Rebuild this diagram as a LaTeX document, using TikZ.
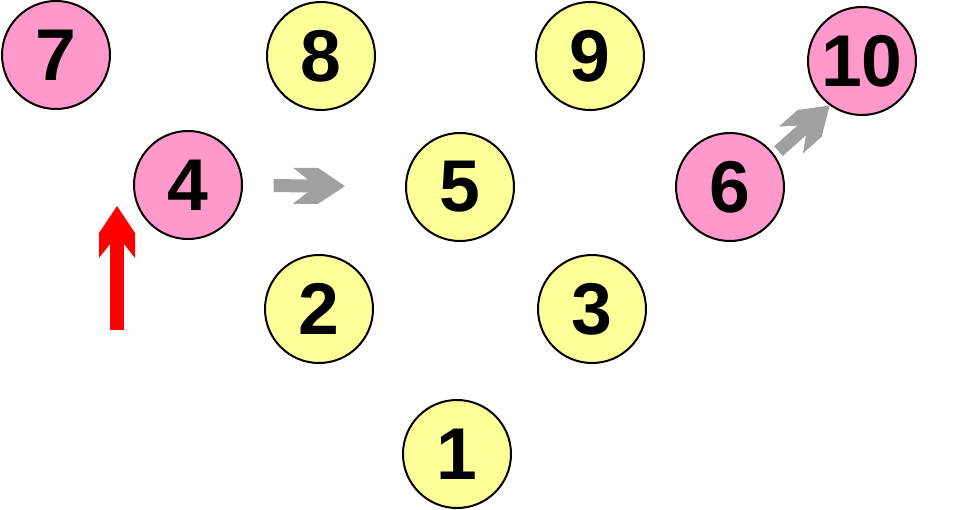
\documentclass[tikz,border=0pt]{standalone}
\usepackage{fontspec}
\setmainfont{Liberation Sans}
\definecolor{pinkball}{HTML}{FF99CC}
\definecolor{yellowball}{HTML}{FFFF99}
\definecolor{grayarrow}{HTML}{A0A0A0}
% block arrow head with cut-off wings
\pgfdeclarearrow{
  name = Chevron,
  setup code = {
    \pgfarrowssettipend{0pt}
    \pgfarrowssetlineend{-25pt}
    \pgfarrowssetbackend{-39pt}
  },
  drawing code = {
    \pgfpathmoveto{\pgfpoint{0pt}{0pt}}
    \pgfpathlineto{\pgfpoint{-20.25pt}{13.5pt}}
    \pgfpathlineto{\pgfpoint{-39pt}{13.5pt}}
    \pgfpathlineto{\pgfpoint{-27.75pt}{4.6pt}}
    \pgfpathlineto{\pgfpoint{-27.75pt}{-4.6pt}}
    \pgfpathlineto{\pgfpoint{-39pt}{-13.5pt}}
    \pgfpathlineto{\pgfpoint{-20.25pt}{-13.5pt}}
    \pgfpathclose
    \pgfusepathqfill
  }
}
\tikzset{>=stealth,
  ball/.style={circle,draw=black,line width=1.5pt,minimum size=81pt,inner sep=0pt,
    font=\fontsize{55}{55}\selectfont\bfseries},
  pinkball/.style={ball,fill=pinkball},
  yellowball/.style={ball,fill=yellowball},
  fatarrow/.style={line width=9.75pt,-Chevron}}

\begin{document}
\begin{tikzpicture}[x=0.75pt,y=-0.75pt]
          \useasboundingbox (0,0) rectangle (953,510);
          \node[pinkball] (n7) at (56,55) {7};
          \node[yellowball] (n8) at (321,56) {8};
          \node[yellowball] (n9) at (590,56) {9};
          \node[pinkball] (n10) at (862,61) {10};
          \node[pinkball] (n4) at (188,185) {4};
          \node[yellowball] (n5) at (460,187) {5};
          \node[pinkball] (n6) at (730,187) {6};
          \node[yellowball] (n2) at (319,309) {2};
          \node[yellowball] (n3) at (592,309) {3};
          \node[yellowball] (n1) at (457,454) {1};
          \coordinate (redfoot) at (117,330);
          \coordinate (redtip) at (117,206);
          \begin{scope}[fatarrow]
            \draw[grayarrow,shorten <=23pt,shorten >=45pt] (n4) -- (n5);
            \draw[grayarrow,shorten <=4pt] (n6.36) -- (n10.234);
            \draw[red,line width=10.5pt] (redfoot) -- (redtip);
          \end{scope}
        \end{tikzpicture}
\end{document}
